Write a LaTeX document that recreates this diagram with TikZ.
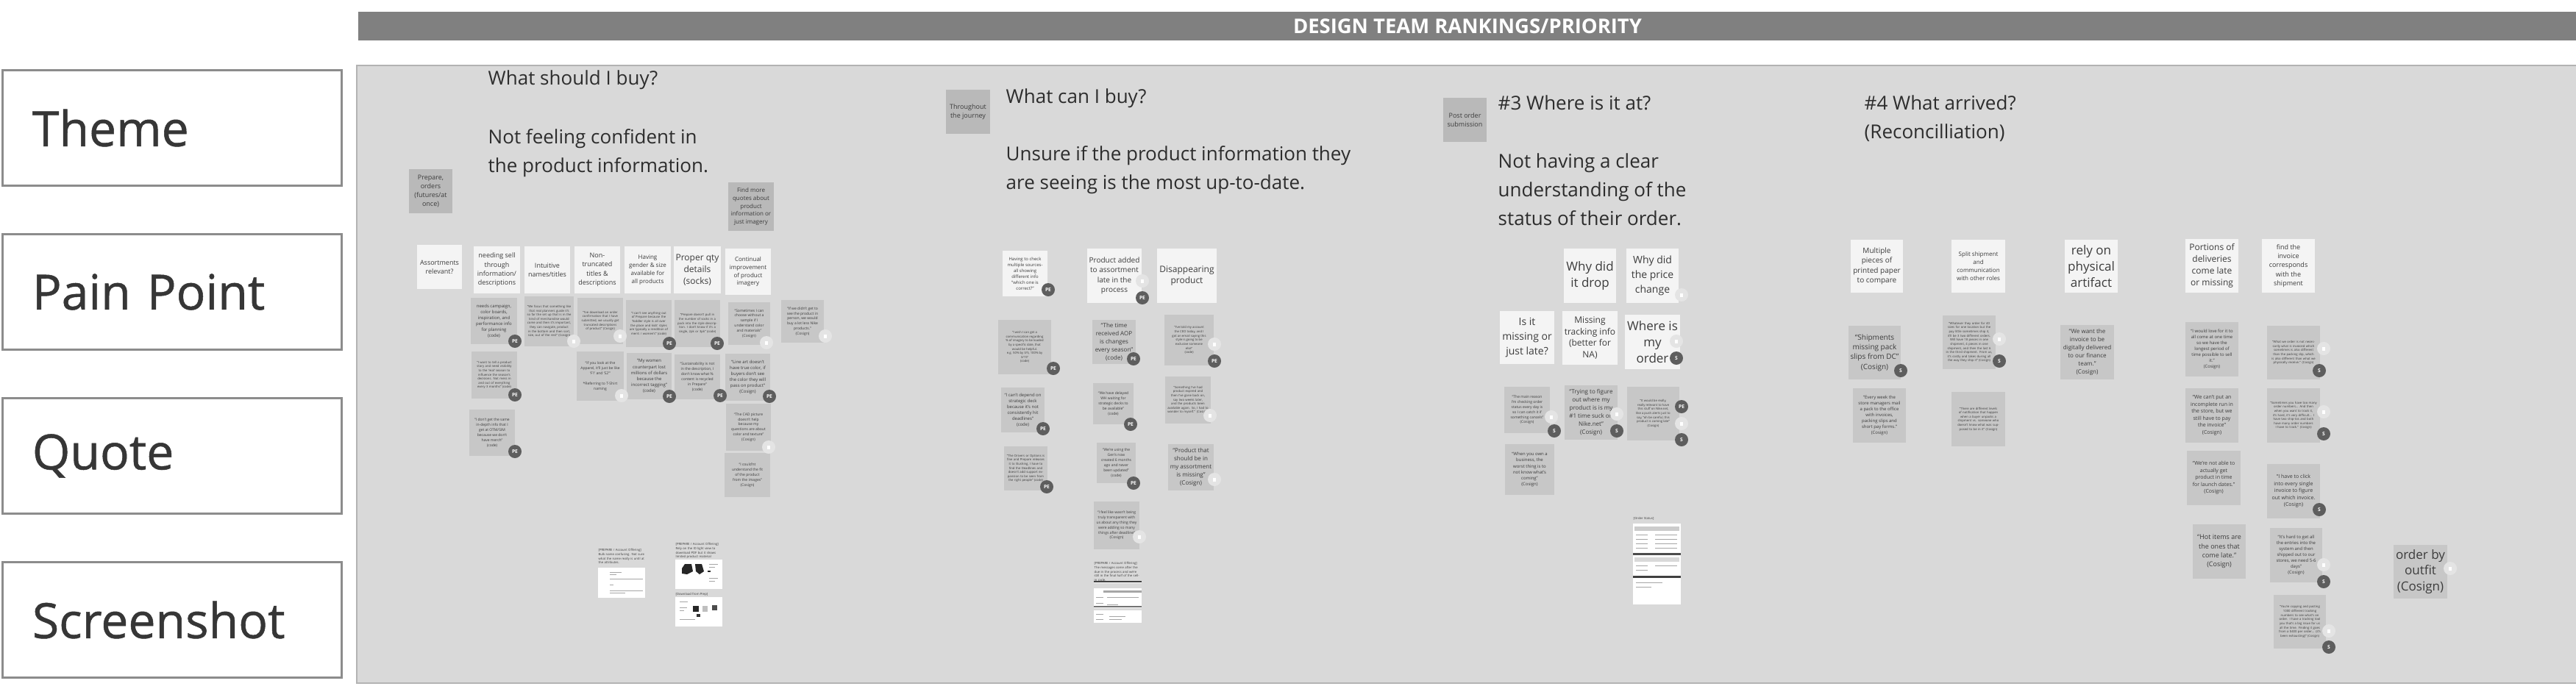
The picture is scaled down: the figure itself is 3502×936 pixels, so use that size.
\documentclass[tikz,border=0pt]{standalone}
\usepackage{fontspec}
\setmainfont{Open Sans}
\newfontfamily\labelfont{Open Sans}[FakeBold=0.8]
\usetikzlibrary{positioning}
\definecolor{board}{HTML}{D9D9D9}
\definecolor{boardline}{HTML}{B3B3B3}
\definecolor{frame}{HTML}{8C8C8C}
\definecolor{banner}{HTML}{808080}
\definecolor{ink}{HTML}{3C3C3C}
\definecolor{cardwhite}{HTML}{F4F4F4}
\definecolor{quotegray}{HTML}{C7C7C7}
\definecolor{ctxgray}{HTML}{B9B9B9}
\definecolor{badgedark}{HTML}{5E5E5E}
\definecolor{badgelight}{HTML}{E4E4E4}
\definecolor{shotline}{HTML}{A6A6A6}

\begin{document}
\begin{tikzpicture}[x=0.01cm, y=-0.01cm,
    rowlabel/.style={draw=frame, line width=0.85pt, fill=white,
      minimum width=4.6cm, minimum height=1.56cm, text width=3.8cm,
      inner xsep=0.4cm, align=left, text=ink!90!black,
      font=\labelfont\fontsize{18.8}{22}\selectfont},
    card/.style={rectangle, inner sep=0.03cm, align=center, text=ink},
    pain/.style={card, fill=cardwhite},
    quo/.style={card, fill=quotegray},
    ctx/.style={card, fill=ctxgray},
    wh/.style 2 args={minimum width=#1cm, minimum height=#2cm},
    headline/.style={anchor=north west, inner sep=0pt, align=left, text=ink!75!black,
      font=\fontsize{7.4}{11.1}\selectfont},
    badge/.style={circle, fill=badgedark, text=white, minimum size=0.18cm,
      inner sep=0pt, font=\fontsize{1.9}{2}\selectfont\bfseries},
    lbadge/.style={circle, fill=badgelight, minimum size=0.18cm, inner sep=0pt,
      path picture={\fill[white] ([xshift=-0.018cm,yshift=-0.025cm]path picture bounding box.center)
        rectangle ++(0.036cm,0.05cm);}},
    caption/.style={anchor=north west, inner sep=0pt, align=left, text=ink,
      font=\fontsize{1.2}{1.6}\selectfont},
    shot/.style={fill=white},
    bar/.style={draw=shotline, line width=0.15pt},
    t4/.style={font=\fontsize{1.2}{1.6}\selectfont},
    t5/.style={font=\fontsize{1.42}{1.95}\selectfont},
    t6/.style={font=\fontsize{1.7}{2.3}\selectfont},
    t7/.style={font=\fontsize{2.0}{2.7}\selectfont},
    t8/.style={font=\fontsize{2.28}{3.1}\selectfont},
    t9/.style={font=\fontsize{2.56}{3.5}\selectfont},
    t10/.style={font=\fontsize{2.85}{3.8}\selectfont},
    t12/.style={font=\fontsize{3.41}{4.5}\selectfont},
    t14/.style={font=\fontsize{3.98}{5.6}\selectfont},
    t17/.style={font=\fontsize{4.84}{6.2}\selectfont},
  ]
  \useasboundingbox (0,0) rectangle (3502,936);

  % Row labels
  \node[rowlabel] (theme)  at (234,174) {Theme};
  \node[rowlabel] (painpt) at (234,397) {Pain Point};
  \node[rowlabel] (quote)  at (234,620) {Quote};
  \node[rowlabel] (screen) at (234,843) {Screenshot};

  % Banner and board
  \node[fill=banner, minimum width=30.14cm, minimum height=0.39cm, inner sep=0pt,
    text=white, font=\fontsize{7.8}{8}\selectfont\bfseries] (banner) at (1995,35.5)
    {DESIGN TEAM RANKINGS/PRIORITY};
  \draw[fill=board, draw=boardline, line width=0.6pt] (485,89) rectangle (3510,929);

  % #1 What should I buy?
  \node[ctx, wh={0.59}{0.60}, t9] (prep) at (585.5,260) {Prepare,\\orders\\(futures/at\\once)};
  \node[headline] (title1) at (663,95) {What should I buy?};
  \node[headline] (body1) at (663,175) {Not feeling confident in\\the product information.};
  \node[ctx, wh={0.62}{0.66}, t8] (findmore) at (1021,281) {Find more\\quotes about\\product\\information or\\just imagery};

  \node[pain, wh={0.60}{0.60}, t9] (assort) at (597.5,363) {Assortments\\relevant?};
  \node[pain, wh={0.62}{0.63}, t9] (sellthru) at (675.5,367) {needing sell\\through\\information/\\descriptions};
  \node[pain, wh={0.62}{0.63}, t9] (intuitive) at (744,367) {Intuitive\\names/titles};
  \node[pain, wh={0.62}{0.63}, t9] (nontrunc) at (812,367) {Non-\\truncated\\titles \&\\descriptions};
  \node[pain, wh={0.63}{0.63}, t8] (gender) at (880.5,367) {Having\\gender \& size\\available for\\all products};
  \node[pain, wh={0.62}{0.63}, t12] (qty) at (948,367) {Proper qty\\details\\(socks)};
  \node[pain, wh={0.62}{0.63}, t8] (imagery) at (1017,369.5) {Continual\\improvement\\of product\\imagery};

  \node[quo, wh={0.63}{0.63}, t6] (qcampaign) at (671.5,436.5) {needs campaign,\\color boards,\\inspiration, and\\performance info\\for planning\\(code)};
  \node[quo, wh={0.67}{0.68}, t4, text width=0.6cm] (qplanner) at (746.5,437) {``We focus that something like that real planners guide it's so far the set up that is in the kind of merchandise would come and then it's important, they can navigate, product in the bottom and then sort, size, out of the rest'' (Cosign)};
  \node[quo, wh={0.62}{0.63}, t4, text width=0.56cm] (qdownload) at (816,436.5) {``I've download an order confirmation that I have submitted, we usually get truncated descriptions of product'' (Cosign)};
  \node[quo, wh={0.62}{0.64}, t4, text width=0.56cm] (qgender) at (882,440) {``I can't see anything out of Prepare because the Toddler style is all over the place and kids' styles are typically a rendition of men's / women's'' (code)};
  \node[quo, wh={0.62}{0.64}, t4, text width=0.56cm] (qsocks) at (948,440) {``Prepare doesn't pull in the number of socks in a pack into the style description. I don't know if it's a single, 2pk or 3pk'' (code)};
  \node[quo, wh={0.57}{0.58}, t5] (qsample) at (1018.5,440) {``Sometimes I can\\choose without a\\sample if I\\understand color\\and materials''\\(Cosign)};
  \node[quo, wh={0.58}{0.58}, t5] (qperson) at (1091,437) {``If we didn't get to\\see the product in\\person, we would\\buy a lot less Nike\\products.''\\(Cosign)};

  \node[quo, wh={0.62}{0.64}, t4, text width=0.56cm] (qstory) at (672,510) {``I want to tell a product story and need visibility to the `real' season to influence the season's decisions. Not mess in and out of everything every 3 months'' (code)};
  \node[quo, wh={0.64}{0.67}, t5] (qapparel) at (816,511.5) {``If you look at the\\Apparel, it'll just be like\\`F1' and `S2'{}''\\[2pt]*Referring to T-Shirt\\naming};
  \node[quo, wh={0.61}{0.63}, t6] (qtagging) at (882.5,511.5) {``My women\\counterpart lost\\millions of dollars\\because the\\incorrect tagging''\\(code)};
  \node[quo, wh={0.62}{0.61}, t5] (qsustain) at (948,512.5) {``Sustainability is not\\in the description, I\\don't know what \%\\content is recycled\\in Prepare''\\(code)};
  \node[quo, wh={0.61}{0.64}, t6] (qlineart) at (1016.5,513) {``Line art doesn't\\have true color, if\\buyers don't see\\the color they will\\pass on product''\\(Cosign)};

  \node[quo, wh={0.62}{0.63}, t5] (qindepth) at (669,588.5) {``I don't get the same\\in-depth info that I\\get at OTM/SIM\\because we don't\\have merch''\\(code)};
  \node[quo, wh={0.61}{0.64}, t5] (qcad) at (1017.5,581) {``The CAD picture\\doesn't help\\because my\\questions are about\\color and texture''\\(Cosign)};
  \node[quo, wh={0.61}{0.60}, t5] (qfit) at (1016,646) {``I could'nt\\understand the fit\\of the product\\from the images''\\(Cosign)};

  \node[badge] at (700,464) {PE};
  \node[lbadge] at (780,464) {};
  \node[lbadge] at (843,457) {};
  \node[badge] at (910,467) {PE};
  \node[badge] at (975,467) {PE};
  \node[lbadge] at (1042,466) {};
  \node[lbadge] at (1122,457) {};
  \node[badge] at (700,537) {PE};
  \node[lbadge] at (845,538) {};
  \node[badge] at (910,539) {PE};
  \node[badge] at (979,538) {PE};
  \node[badge] at (1046,539) {PE};
  \node[badge] at (700,614) {PE};
  \node[lbadge] at (1045,608) {};

  % screenshots of #1
  \node[caption, text width=0.63cm] (cap1) at (813,746) {[PREPARE / Account Offering]\\Bulk name confusing. Not sure what the name really is until at the attributes.};
  \fill[shot] (813,772) rectangle (877,813);
  \draw[bar] (829,778) -- (845,778) (829,781) -- (838,781);
  \draw[bar] (829,787) -- (874,787) (865,787) -- (870,787);
  \draw[bar] (829,795) -- (834,795) (829,803) -- (874,803) (829,806) -- (850,806);
  \node[caption, text width=0.63cm] (cap2) at (918,738) {[PREPARE / Account Offering]\\Rely on the ID light view to download PDF but it shows limited product material};
  \fill[shot] (918,761) rectangle (982,801);
  \fill[black!85] (927,773) -- (931,767) -- (940,767) -- (942,777) -- (934,781) -- (927,780) -- cycle;
  \fill[black!85] (945,767) -- (954,767) -- (957,777) -- (951,781) -- (946,777) -- cycle;
  \fill[black!85] (962,776) rectangle (966,778);
  \draw[bar] (964,767) -- (976,767) (964,771) -- (972,771) (964,786) -- (976,786) (964,790) -- (972,790);
  \node[caption] (cap3) at (918,806) {[Download from Prep]};
  \fill[shot] (918,812) rectangle (982,852);
  \draw[bar] (924,818) -- (935,818) (924,826) -- (934,826) (924,830) -- (930,830) (924,842) -- (945,842);
  \fill[black!85] (942,824) rectangle (950,832);
  \fill[black!25] (955,824) rectangle (962,832);
  \fill[black!70] (968,823) rectangle (975,830);
  \fill[black!80] (947,835) rectangle (952,839);

  % #2 What can I buy?
  \node[ctx, wh={0.60}{0.60}, t9] (journey) at (1316,152) {Throughout\\the journey};
  \node[headline] (title2) at (1367,120) {What can I buy?};
  \node[headline] (body2) at (1367,198) {Unsure if the product information they\\are seeing is the most up-to-date.};

  \node[pain, wh={0.61}{0.62}, t6] (sources) at (1393.5,372) {Having to check\\multiple sources-\\all showing\\different info\\``which one is\\correct?''};
  \node[pain, wh={0.72}{0.74}, t10] (latead) at (1515,375) {Product added\\to assortment\\late in the\\process};
  \node[pain, wh={0.73}{0.74}, t12] (disappear) at (1613.5,375) {Disappearing\\product};

  \node[quo, wh={0.72}{0.74}, t4] (qimagery) at (1393,472) {``I wish I can get a\\communication regarding\\\% of imagery to be loaded\\by a specific date, that\\would be helpful.\\e.g. 50\% by 3/5, 100\% by\\3/15''\\(code)};
  \node[quo, wh={0.59}{0.61}, t6] (qdeck) at (1390.5,557.5) {``I can't depend on\\strategic deck\\because it's not\\consistently hit\\deadlines''\\(code)};
  \node[quo, wh={0.59}{0.60}, t4, text width=0.53cm] (qdrivers) at (1394.5,637) {``The Drivers or Options is fine and Prepare releases it to Slushing, I have to find the Deadlines and doesn't add support expansion to be seen from the right people'' (code)};
  \node[quo, wh={0.59}{0.60}, t8] (qaop) at (1514.5,465) {``The time\\received AOP\\is changes\\every season''\\(code)};
  \node[quo, wh={0.55}{0.56}, t5] (qdelay) at (1513.5,549) {``We have delayed\\WH waiting for\\strategic decks to\\be available''\\(code)};
  \node[quo, wh={0.53}{0.55}, t5] (qgens) at (1517.5,629.5) {``We're using the\\Gen's now\\created 6 months\\ago and never\\been updated''\\(code)};
  \node[quo, wh={0.62}{0.65}, t5] (qtransp) at (1518,714.5) {``I feel like wasn't being\\truly transparent with\\us about any thing they\\were adding so many\\things after deadline''\\(Cosign)};
  \node[quo, wh={0.67}{0.69}, t4] (qexclusive) at (1616.5,462.5) {``I've told my account\\the CEO today, and I\\got an email saying this\\style is going to be\\exclusive someone\\else''\\(code)};
  \node[quo, wh={0.62}{0.64}, t4, text width=0.56cm] (qexpired) at (1615,544) {``Something I've had product expired and then I've gone back on, say two weeks later, and the products been available again. So, I had to wonder to myself.'' (Cosign)};
  \node[quo, wh={0.62}{0.63}, t8] (qmissing) at (1619,635.5) {``Product that\\should be in\\my assortment\\is missing''\\(Cosign)};

  \node[badge] at (1425,394) {PE};
  \node[lbadge] at (1553,382) {};
  \node[badge] at (1553,405) {PE};
  \node[badge] at (1432,501) {PE};
  \node[badge] at (1418,583) {PE};
  \node[badge] at (1423,662) {PE};
  \node[badge] at (1541,488) {PE};
  \node[badge] at (1537,577) {PE};
  \node[badge] at (1541,657) {PE};
  \node[lbadge] at (1549,730) {};
  \node[lbadge] at (1651,468) {};
  \node[badge] at (1651,491) {PE};
  \node[lbadge] at (1645,565) {};
  \node[lbadge] at (1651,652) {};

  \node[caption, text width=0.63cm] (cap4) at (1487,764) {[PREPARE / Account Offering]\\The messages come after the due in the process and we're still in the final half of the sell-in cycle.};
  \fill[shot] (1487,790) rectangle (1552,847);
  \fill[black!75] (1487,790) rectangle (1552,792);
  \fill[black!15] (1487,793) rectangle (1552,800);
  \fill[black!35] (1500,803) rectangle (1552,806);
  \draw[bar] (1490,812) -- (1500,812) (1505,812) -- (1548,812) (1490,820) -- (1500,820) (1505,822) -- (1520,822);
  \fill[black!55] (1487,824) rectangle (1552,826);
  \fill[black!15] (1487,827) rectangle (1552,830);
  \draw[bar] (1490,835) -- (1500,835) (1508,838) -- (1530,838) (1490,842) -- (1500,842) (1508,842) -- (1525,842);

  % #3 Where is it at?
  \node[ctx, wh={0.59}{0.60}, t9] (postorder) at (1991.5,163) {Post order\\submission};
  \node[headline] (title3) at (2036,129) {\#3 Where is it at?};
  \node[headline] (body3) at (2036,208) {Not having a clear\\understanding of the\\status of their order.};

  \node[pain, wh={0.71}{0.74}, t17] (drop) at (2161.5,375) {Why did\\it drop};
  \node[pain, wh={0.71}{0.74}, t14] (price) at (2246.5,375) {Why did\\the price\\change};
  \node[pain, wh={0.72}{0.72}, t14] (late) at (2076,459) {Is it\\missing or\\just late?};
  \node[pain, wh={0.73}{0.73}, t12] (tracking) at (2161.5,459.5) {Missing\\tracking info\\(better for\\NA)};
  \node[pain, wh={0.73}{0.74}, t17] (myorder) at (2246.5,465) {Where is\\my\\order};

  \node[quo, wh={0.62}{0.63}, t5] (qstatus) at (2076,557.5) {``The main reason\\I'm checking order\\status every day is\\so I can catch it if\\something cancels''\\(Cosign)};
  \node[quo, wh={0.72}{0.74}, t8] (qsuck) at (2163,561) {``Trying to figure\\out where my\\product is is my\\\#1 time suck on\\Nike.net''\\(Cosign)};
  \node[quo, wh={0.71}{0.73}, t4] (qpush) at (2247.5,562.5) {``It would be really,\\really relevant to have\\this stuff on Nike.net,\\like a push alerts just to\\say, ``oh be careful, this\\product is coming late''\\(Cosign)};
  \node[quo, wh={0.67}{0.69}, t6] (qbusiness) at (2079.5,638.5) {``When you own a\\business, the\\worst thing is to\\not know what's\\coming''\\(Cosign)};

  \node[lbadge] at (2286,401) {};
  \node[lbadge] at (2279,464) {};
  \node[badge] at (2279,487) {S};
  \node[lbadge] at (2109,567) {};
  \node[badge] at (2113,586) {S};
  \node[lbadge] at (2198,563) {};
  \node[badge] at (2198,586) {S};
  \node[badge] at (2286,553) {PE};
  \node[lbadge] at (2286,576) {};
  \node[badge] at (2286,598) {S};

  \node[caption] (cap5) at (2220,703) {[Order Status]};
  \fill[shot] (2220,712) rectangle (2285,822);
  \fill[black!20] (2222,716) rectangle (2283,722);
  \draw[bar] (2224,727) -- (2240,727) (2250,727) -- (2280,727) (2224,733) -- (2240,733) (2250,733) -- (2280,733)
    (2224,739) -- (2240,739) (2250,739) -- (2280,739) (2224,745) -- (2240,745) (2250,745) -- (2280,745);
  \fill[black!70] (2220,752) rectangle (2285,755);
  \fill[black!15] (2222,758) rectangle (2283,764);
  \draw[bar] (2224,769) -- (2240,769) (2250,769) -- (2280,769) (2224,775) -- (2240,775);
  \fill[black!75] (2220,783) rectangle (2285,786);
  \draw[bar] (2224,792) -- (2260,792) (2224,798) -- (2245,798);

  % #4 What arrived?
  \node[headline] (title4) at (2534,129) {\#4 What arrived?\\(Reconcilliation)};

  \node[pain, wh={0.71}{0.72}, t10] (paper) at (2551.5,362) {Multiple\\pieces of\\printed paper\\to compare};
  \node[pain, wh={0.73}{0.72}, t8] (split) at (2689.5,362) {Split shipment\\and\\communication\\with other roles};
  \node[pain, wh={0.72}{0.72}, t17] (artifact) at (2843,362) {rely on\\physical\\artifact};
  \node[pain, wh={0.72}{0.73}, t12] (portions) at (3007,361.5) {Portions of\\deliveries\\come late\\or missing};
  \node[pain, wh={0.72}{0.73}, t9] (invoice) at (3111,361.5) {find the\\invoice\\corresponds\\with the\\shipment};

  \node[quo, wh={0.71}{0.73}, t10] (qpackslip) at (2548.5,479.5) {``Shipments\\missing pack\\slips from DC''\\(Cosign)};
  \node[quo, wh={0.72}{0.73}, t4, text width=0.64cm] (qsplit) at (2677,465.5) {``Whatever they order for 40 sizes for one location but the pay little sometimes ship it, it'll be 3 two different orders. Will have 18 pieces in one shipment, 4 pieces in one shipment, and then the last 6 in the third shipment. From us, it's costly and takes during all the way they ship it'' (Cosign)};
  \node[quo, wh={0.73}{0.74}, t8] (qdigital) at (2837.5,479) {``We want the\\invoice to be\\digitally delivered\\to our finance\\team.''\\(Cosign)};
  \node[quo, wh={0.72}{0.74}, t6] (qmail) at (2555,565) {``Every week the\\store managers mail\\a pack to the office\\with invoices,\\packing slips and\\short pay forms.''\\(Cosign)};
  \node[quo, wh={0.73}{0.74}, t4, text width=0.64cm] (qnotify) at (2689.5,570) {``There are different levels of notification that happen when a buyer unpacks a shipment vs. someone who doesn't know what was supposed to be in it'' (Cosign)};

  \node[quo, wh={0.72}{0.74}, t6] (qonetime) at (3007,475) {``I would love for it to\\all come at one time\\so we have the\\longest period of\\time possible to sell\\it.''\\(Cosign)};
  \node[quo, wh={0.72}{0.74}, t7] (qincomplete) at (3007,565) {``We can't put an\\incomplete run in\\the store, but we\\still have to pay\\the invoice''\\(Cosign)};
  \node[quo, wh={0.73}{0.74}, t7] (qlaunch) at (3009.5,650) {``We're not able to\\actually get\\product in time\\for launch dates.''\\(Cosign)};
  \node[quo, wh={0.72}{0.74}, t9] (qhot) at (3017,750) {``Hot items are\\the ones that\\come late.''\\(Cosign)};

  \node[quo, wh={0.72}{0.73}, t4, text width=0.64cm] (qinvoiced) at (3118,479.5) {``What we order is not necessarily what is invoiced which sometimes is also different than the packing slip, which is also different than what we physically receive.'' (Cosign)};
  \node[quo, wh={0.72}{0.74}, t4, text width=0.64cm] (qtoomany) at (3118,565) {``Sometimes you have too many order numbers... And then when you want to track it, it's hard, it's very difficult... I have two ship-tos and both have many order numbers I have to track.'' (Cosign)};
  \node[quo, wh={0.72}{0.74}, t7] (qclick) at (3118,668) {``I have to click\\into every single\\invoice to figure\\out which invoice.\\(Cosign)};
  \node[quo, wh={0.71}{0.74}, t6] (qentries) at (3121.5,755) {``It's hard to get all\\the entries into the\\system and then\\shipped out to our\\stores, we need 5-6\\days''\\(Cosign)};
  \node[quo, wh={0.71}{0.73}, t4, text width=0.62cm] (qtracking) at (3126.5,845.5) {``You're copying and pasting 1000 different tracking numbers to see what's on order. I have a tracking tool you that's a big issue for us all the time. Finding it goes from a \$400 per order... (it's been exhausting)'' (Cosign)};
  \node[quo, wh={0.73}{0.73}, t17] (qoutfit) at (3290.5,777.5) {order by\\outfit\\(Cosign)};

  \node[badge] at (2584,504) {S};
  \node[lbadge] at (2718,461) {};
  \node[badge] at (2718,491) {S};
  \node[lbadge] at (3159,474) {};
  \node[badge] at (3153,504) {S};
  \node[lbadge] at (3159,560) {};
  \node[badge] at (3159,590) {S};
  \node[badge] at (3153,693) {S};
  \node[lbadge] at (3159,768) {};
  \node[badge] at (3159,791) {S};
  \node[lbadge] at (3166,858) {};
  \node[badge] at (3166,880) {S};
  \node[lbadge] at (3331,773) {};
\end{tikzpicture}
\end{document}
